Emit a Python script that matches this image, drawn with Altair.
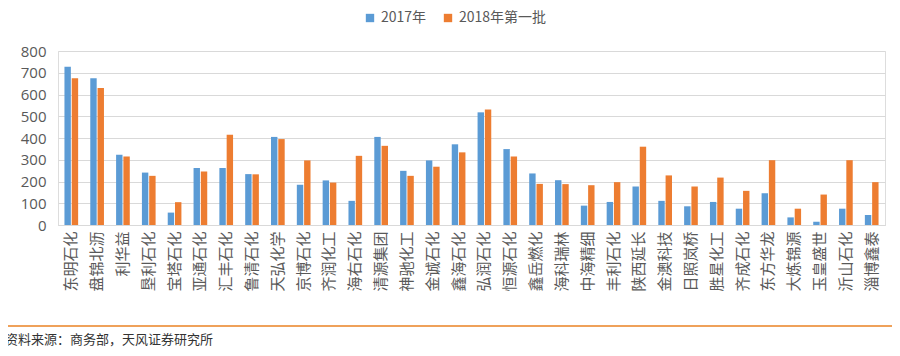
import altair as alt
import pandas as pd

categories = ["东明石化", "盘锦北沥", "利华益", "垦利石化", "宝塔石化", "亚通石化", "汇丰石化", "鲁清石化",
              "天弘化学", "京博石化", "齐润化工", "海右石化", "清源集团", "神驰化工", "金诚石化", "鑫海石化",
              "弘润石化", "恒源石化", "鑫岳燃化", "海科瑞林", "中海精细", "丰利石化", "陕西延长", "金澳科技",
              "日照岚桥", "胜星化工", "齐成石化", "东方华龙", "大炼锦源", "玉皇盛世", "沂山石化", "淄博鑫泰"]
v2017 = [728, 675, 323, 241, 57, 262, 262, 234, 405, 185, 205, 111, 405, 249, 297, 371,
         518, 349, 237, 206, 89, 106, 177, 111, 86, 106, 75, 146, 35, 15, 75, 46]
v2018 = [675, 630, 315, 226, 105, 246, 415, 233, 395, 297, 195, 318, 364, 226, 268, 334,
         531, 315, 189, 188, 183, 197, 360, 228, 177, 218, 157, 298, 75, 140, 298, 197]
series = ["2017年", "2018年第一批"]
source_text = ["资料来源：商务部，天风证券研究所"]

rows = []
for c, a, b in zip(categories, v2017, v2018):
    rows.append({"name": c, "series": series[0], "value": a})
    rows.append({"name": c, "series": series[1], "value": b})
df = pd.DataFrame(rows)

FONT = "Noto Sans CJK SC"

bars = alt.Chart(df).mark_bar().encode(
    x=alt.X("name:N", sort=categories, title=None,
            scale=alt.Scale(paddingInner=0.47, paddingOuter=0.25),
            axis=alt.Axis(labelAngle=-90, labelFontSize=15, labelColor="#595959", labelFont=FONT,
                          ticks=False, domainColor="#D9D9D9", labelPadding=6, labelLimit=200)),
    xOffset=alt.XOffset("series:N", sort=series, scale=alt.Scale(paddingInner=0.12)),
    y=alt.Y("value:Q", title=None, scale=alt.Scale(domain=[0, 800]),
            axis=alt.Axis(values=[0, 100, 200, 300, 400, 500, 600, 700, 800], labelFontSize=15,
                          labelColor="#595959", labelFont="Open Sans", domain=False, ticks=False,
                          gridColor="#D9D9D9", labelPadding=12)),
    color=alt.Color("series:N", sort=series,
                    scale=alt.Scale(domain=series, range=["#5B9BD5", "#ED7D31"]),
                    legend=alt.Legend(title=None, orient="none", direction="horizontal",
                                      legendX=305, legendY=-40, symbolType="square", symbolSize=70,
                                      labelFontSize=14, labelColor="#595959", labelFont=FONT,
                                      columnPadding=14, symbolStrokeWidth=0)),
)

line = alt.Chart(pd.DataFrame({"k": [0]})).mark_rule(color="#EFA15A", strokeWidth=2).encode(
    x=alt.value(-50), x2=alt.value(834), y=alt.value(275))

src = alt.Chart(pd.DataFrame({"t": source_text})).mark_text(
    align="left", baseline="middle", fontSize=13, color="#333333", font=FONT
).encode(x=alt.value(-53), y=alt.value(289), text="t:N")

chart = alt.layer(bars, line, src).properties(
    width=827, height=174,
    autosize=alt.AutoSizeParams(type="none"),
    padding={"left": 50, "top": 43, "right": 7, "bottom": 128},
).configure_view(stroke=None).configure(background="white")

chart.save("out.html", embed_options={"renderer": "svg", "actions": False})
